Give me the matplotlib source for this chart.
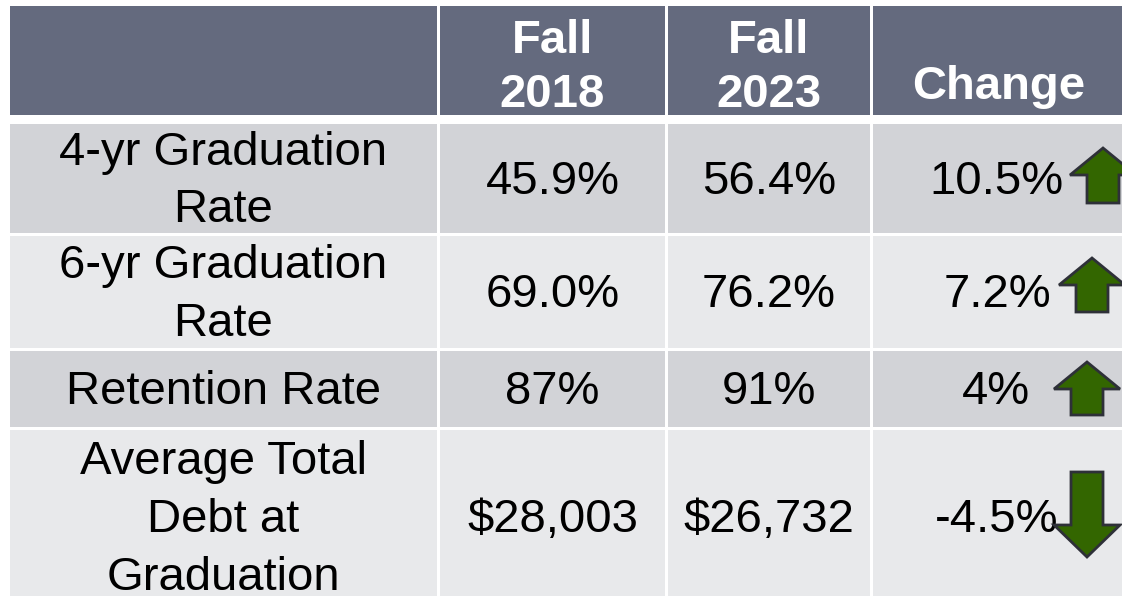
import matplotlib
matplotlib.use("Agg")
import matplotlib.pyplot as plt
from matplotlib.patches import Rectangle, Polygon

plt.rcParams['font.family'] = ['Liberation Sans', 'DejaVu Sans']

# table content
headers = ["", "Fall\n2018", "Fall\n2023", "Change"]
metrics = ["4-yr Graduation\nRate", "6-yr Graduation\nRate",
           "Retention Rate", "Average Total\nDebt at\nGraduation"]
fall_2018 = ["45.9%", "69.0%", "87%", "$28,003"]
fall_2023 = ["56.4%", "76.2%", "91%", "$26,732"]
change = ["10.5%", "7.2%", "4%", "-4.5%"]
direction = ["up", "up", "up", "down"]

# layout in pixel units
col_edges = [(10, 437), (440, 665), (668, 870), (873, 1135)]
header_edge = (6, 115)
row_edges = [(124, 233), (236, 348), (351, 427), (430, 604)]
row_colors = ["#d2d3d7", "#e8e9eb", "#d2d3d7", "#e8e9eb"]
header_color = "#646a7e"
change_text_right = [1064, 1051, 1030, 1058]
arrow_x = [1103, 1092, 1087, 1087]
arrow_span = [(148, 203), (258, 312), (362, 415), (472, 557)]
arrow_fill = "#336600"
arrow_edge = "#2e3038"
dy = 3  # small nudge so glyphs sit like the original

fig = plt.figure(figsize=(11.22, 5.96), dpi=100)
ax = fig.add_axes([0, 0, 1, 1])
ax.set_xlim(0, 1122)
ax.set_ylim(596, 0)
ax.axis('off')


def cell(x0, x1, y0, y1, color):
    ax.add_patch(Rectangle((x0, y0), x1 - x0, y1 - y0, facecolor=color,
                           edgecolor='none'))


def arrow(cx, y0, y1, up=True):
    hw, sw = 33, 16
    hh = 27 if up else 32
    if up:
        pts = [(cx, y0), (cx + hw, y0 + hh), (cx + sw, y0 + hh), (cx + sw, y1),
               (cx - sw, y1), (cx - sw, y0 + hh), (cx - hw, y0 + hh)]
    else:
        pts = [(cx, y1), (cx + hw, y1 - hh), (cx + sw, y1 - hh), (cx + sw, y0),
               (cx - sw, y0), (cx - sw, y1 - hh), (cx - hw, y1 - hh)]
    ax.add_patch(Polygon(pts, closed=True, facecolor=arrow_fill,
                         edgecolor=arrow_edge, linewidth=2, zorder=3))


fs = 34
# header
for (x0, x1), label in zip(col_edges, headers):
    cell(x0, x1, header_edge[0], header_edge[1], header_color)
    if label:
        two_line = "\n" in label
        ax.text((x0 + x1) / 2 if two_line else 999,
                68 if two_line else 87,
                label, color='white', fontsize=fs, fontweight='bold',
                ha='center', va='center', linespacing=1.3)

# body
for i, (y0, y1) in enumerate(row_edges):
    for x0, x1 in col_edges:
        cell(x0, x1, y0, y1, row_colors[i])
    yc = (y0 + y1) / 2 + dy
    ax.text((col_edges[0][0] + col_edges[0][1]) / 2, yc, metrics[i],
            fontsize=fs, ha='center', va='center', linespacing=1.4)
    ax.text((col_edges[1][0] + col_edges[1][1]) / 2, yc, fall_2018[i],
            fontsize=fs, ha='center', va='center')
    ax.text((col_edges[2][0] + col_edges[2][1]) / 2, yc, fall_2023[i],
            fontsize=fs, ha='center', va='center')
    ax.text(change_text_right[i], yc, change[i],
            fontsize=fs, ha='right', va='center')
    arrow(arrow_x[i], arrow_span[i][0], arrow_span[i][1], direction[i] == "up")

fig.savefig("out.png", dpi=100, facecolor='white')
